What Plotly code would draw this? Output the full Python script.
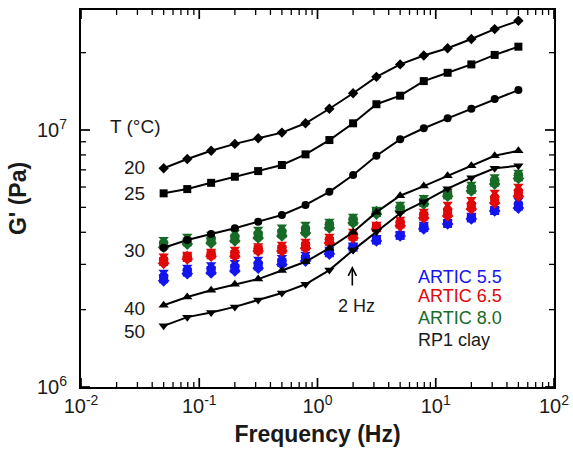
import plotly.graph_objects as go

freq = [0.05, 0.0792, 0.126, 0.2, 0.315, 0.5, 0.792, 1.26, 2.0, 3.15, 5.0, 7.92, 12.6, 20.0, 31.5, 50.0]

# RP1 clay, G' (Pa) at each temperature
rp1_20 = [7.10e6, 7.71e6, 8.30e6, 8.83e6, 9.29e6, 9.77e6, 1.062e7, 1.21e7, 1.39e7, 1.61e7, 1.80e7, 1.95e7, 2.08e7, 2.26e7, 2.47e7, 2.66e7]
rp1_25 = [5.67e6, 5.89e6, 6.23e6, 6.58e6, 6.92e6, 7.31e6, 8.04e6, 9.14e6, 1.062e7, 1.26e7, 1.36e7, 1.55e7, 1.67e7, 1.80e7, 1.96e7, 2.11e7]
rp1_30 = [3.48e6, 3.73e6, 3.94e6, 4.15e6, 4.40e6, 4.67e6, 5.11e6, 5.75e6, 6.68e6, 7.94e6, 9.20e6, 1.016e7, 1.11e7, 1.21e7, 1.32e7, 1.43e7]
rp1_40 = [2.08e6, 2.24e6, 2.38e6, 2.51e6, 2.63e6, 2.84e6, 3.07e6, 3.47e6, 4.00e6, 4.79e6, 5.55e6, 6.05e6, 6.64e6, 7.26e6, 7.94e6, 8.30e6]
rp1_50 = [1.73e6, 1.87e6, 1.95e6, 2.05e6, 2.18e6, 2.32e6, 2.51e6, 2.85e6, 3.41e6, 4.02e6, 4.74e6, 5.26e6, 5.91e6, 6.52e6, 7.10e6, 7.26e6]

# ARTIC 5.5
a55_50 = [2.80e6, 2.93e6, 3.00e6, 3.06e6, 3.15e6, 3.20e6, 3.29e6, 3.44e6, 3.57e6, 3.83e6, 3.94e6, 4.31e6, 4.39e6, 4.67e6, 4.93e6, 5.34e6]
a55_40 = [2.75e6, 2.89e6, 2.95e6, 3.00e6, 3.09e6, 3.15e6, 3.24e6, 3.40e6, 3.55e6, 3.80e6, 3.92e6, 4.26e6, 4.37e6, 4.63e6, 4.91e6, 5.25e6]
a55_30 = [2.70e6, 2.85e6, 2.89e6, 2.95e6, 3.03e6, 3.10e6, 3.19e6, 3.37e6, 3.52e6, 3.77e6, 3.91e6, 4.22e6, 4.35e6, 4.59e6, 4.89e6, 5.15e6]
a55_25 = [2.64e6, 2.80e6, 2.84e6, 2.89e6, 2.96e6, 3.05e6, 3.14e6, 3.33e6, 3.50e6, 3.73e6, 3.89e6, 4.17e6, 4.33e6, 4.55e6, 4.86e6, 5.06e6]
a55_20 = [2.59e6, 2.76e6, 2.78e6, 2.83e6, 2.90e6, 3.00e6, 3.09e6, 3.29e6, 3.47e6, 3.70e6, 3.87e6, 4.12e6, 4.31e6, 4.51e6, 4.84e6, 4.97e6]

# ARTIC 6.5
a65_50 = [3.24e6, 3.29e6, 3.38e6, 3.44e6, 3.55e6, 3.60e6, 3.70e6, 3.87e6, 4.05e6, 4.31e6, 4.51e6, 4.84e6, 5.15e6, 5.38e6, 5.74e6, 6.05e6]
a65_40 = [3.19e6, 3.26e6, 3.34e6, 3.39e6, 3.51e6, 3.54e6, 3.64e6, 3.81e6, 3.99e6, 4.26e6, 4.44e6, 4.77e6, 5.02e6, 5.27e6, 5.60e6, 5.92e6]
a65_30 = [3.13e6, 3.22e6, 3.30e6, 3.33e6, 3.46e6, 3.49e6, 3.58e6, 3.75e6, 3.92e6, 4.22e6, 4.37e6, 4.69e6, 4.89e6, 5.15e6, 5.47e6, 5.79e6]
a65_25 = [3.08e6, 3.19e6, 3.27e6, 3.28e6, 3.42e6, 3.43e6, 3.53e6, 3.69e6, 3.86e6, 4.17e6, 4.31e6, 4.62e6, 4.76e6, 5.04e6, 5.33e6, 5.66e6]
a65_20 = [3.03e6, 3.15e6, 3.23e6, 3.23e6, 3.38e6, 3.38e6, 3.47e6, 3.63e6, 3.80e6, 4.12e6, 4.24e6, 4.55e6, 4.63e6, 4.93e6, 5.20e6, 5.53e6]

# ARTIC 8.0
a80_50 = [3.76e6, 3.87e6, 3.94e6, 4.01e6, 4.12e6, 4.20e6, 4.31e6, 4.43e6, 4.63e6, 4.93e6, 5.15e6, 5.48e6, 5.79e6, 6.16e6, 6.59e6, 6.86e6]
a80_40 = [3.70e6, 3.80e6, 3.86e6, 3.93e6, 4.04e6, 4.12e6, 4.22e6, 4.36e6, 4.56e6, 4.88e6, 5.07e6, 5.40e6, 5.72e6, 6.07e6, 6.48e6, 6.76e6]
a80_30 = [3.63e6, 3.73e6, 3.78e6, 3.85e6, 3.96e6, 4.04e6, 4.14e6, 4.29e6, 4.49e6, 4.82e6, 4.99e6, 5.31e6, 5.66e6, 5.97e6, 6.37e6, 6.67e6]
a80_25 = [3.57e6, 3.67e6, 3.71e6, 3.78e6, 3.88e6, 3.95e6, 4.05e6, 4.23e6, 4.42e6, 4.77e6, 4.92e6, 5.23e6, 5.59e6, 5.88e6, 6.27e6, 6.57e6]
a80_20 = [3.50e6, 3.60e6, 3.63e6, 3.70e6, 3.80e6, 3.87e6, 3.97e6, 4.16e6, 4.35e6, 4.71e6, 4.84e6, 5.15e6, 5.53e6, 5.79e6, 6.16e6, 6.48e6]

temp_labels = ["20", "25", "30", "40", "50"]
legend_labels = ["ARTIC 5.5", "ARTIC 6.5", "ARTIC 8.0", "RP1 clay"]

# axis ticks: decades (labelled, long) and intermediate (short)
x_major = [0.01, 0.1, 1, 10, 100]
x_major_text = ["10<sup>-2</sup>", "10<sup>-1</sup>", "10<sup>0</sup>", "10<sup>1</sup>", "10<sup>2</sup>"]
x_minor = [0.02, 0.03, 0.04, 0.05, 0.06, 0.07, 0.08, 0.09,
           0.2, 0.3, 0.4, 0.5, 0.6, 0.7, 0.8, 0.9,
           2, 3, 4, 5, 6, 7, 8, 9,
           20, 30, 40, 50, 60, 70, 80, 90]
y_major = [1e6, 1e7]
y_major_text = ["10<sup>6</sup>", "10<sup>7</sup>"]
y_minor = [2e6, 3e6, 4e6, 5e6, 6e6, 7e6, 8e6, 9e6, 2e7]

BLUE = "#1414f0"
RED = "#e00808"
GREEN = "#176b27"
TXT = "#1a1a1a"
FONT = "Liberation Sans, Arial, sans-serif"

symbols = {"20": "diamond", "25": "square", "30": "circle", "40": "triangle-up", "50": "triangle-down"}
sizes = {"20": 8, "25": 8, "30": 8, "40": 9, "50": 9}

fig = go.Figure()

artic = [
    (BLUE, {"20": a55_20, "25": a55_25, "30": a55_30, "40": a55_40, "50": a55_50}),
    (RED, {"20": a65_20, "25": a65_25, "30": a65_30, "40": a65_40, "50": a65_50}),
    (GREEN, {"20": a80_20, "25": a80_25, "30": a80_30, "40": a80_40, "50": a80_50}),
]
for color, series in artic:
    for t in ["20", "25", "30", "40", "50"]:
        fig.add_trace(go.Scatter(
            x=freq, y=series[t], mode="markers",
            marker=dict(symbol=symbols[t], size=9, color=color, line=dict(width=0)),
            showlegend=False, hoverinfo="skip"))

rp1 = {"20": rp1_20, "25": rp1_25, "30": rp1_30, "40": rp1_40, "50": rp1_50}
for t in ["20", "25", "30", "40", "50"]:
    fig.add_trace(go.Scatter(
        x=freq, y=rp1[t], mode="lines+markers",
        line=dict(color="black", width=2),
        marker=dict(symbol=symbols[t], size=sizes[t], color="black", line=dict(width=0)),
        showlegend=False))

fig.update_layout(
    width=573, height=449,
    margin=dict(l=81, r=19, t=10, b=62),
    paper_bgcolor="white", plot_bgcolor="white",
    showlegend=False,
)

fig.update_xaxes(
    type="log", range=[-2, 2], showgrid=False, zeroline=False, automargin=False,
    showline=True, linecolor="black", linewidth=2, mirror=True, ticks="",
    tickmode="array", tickvals=x_major, ticktext=x_major_text,
    tickfont=dict(family=FONT, size=20, color=TXT),
    title=dict(text="<b>Frequency (Hz)</b>", font=dict(family=FONT, size=23, color=TXT), standoff=10),
)
fig.update_yaxes(
    type="log", range=[6, 7.467], showgrid=False, zeroline=False, automargin=False,
    showline=True, linecolor="black", linewidth=2, mirror=True, ticks="", ticklabelstandoff=8,
    tickmode="array", tickvals=y_major, ticktext=y_major_text,
    tickfont=dict(family=FONT, size=20, color=TXT),
    title=dict(text="<b>G' (Pa)</b>", font=dict(family=FONT, size=23, color=TXT), standoff=4),
)

# inside tick marks on all four sides (long at decades, short between)
tick_style = [(x_major, 9, 1.7), (x_minor, 5, 1.3)]
for vals, tlen, tw in tick_style:
    for v in vals:
        for anchor, sgn in ((0, 1), (1, -1)):
            fig.add_shape(type="line", xref="x", yref="paper", x0=v, x1=v,
                          ysizemode="pixel", yanchor=anchor, y0=0, y1=sgn * tlen,
                          line=dict(color="black", width=tw), layer="above")
tick_style_y = [(y_major, 9, 1.7), (y_minor, 5, 1.3)]
for vals, tlen, tw in tick_style_y:
    for v in vals:
        for anchor, sgn in ((0, 1), (1, -1)):
            fig.add_shape(type="line", yref="y", xref="paper", y0=v, y1=v,
                          xsizemode="pixel", xanchor=anchor, x0=0, x1=sgn * tlen,
                          line=dict(color="black", width=tw), layer="above")

# temperature labels
fig.add_annotation(x=0.057, y=0.690, xref="paper", yref="paper", text="T (°C)", showarrow=False,
                   xanchor="left", yanchor="middle", font=dict(family=FONT, size=19, color=TXT))
temp_y = [0.581, 0.514, 0.363, 0.2095, 0.1467]
for lab, yy in zip(temp_labels, temp_y):
    fig.add_annotation(x=0.1395, y=yy, xref="paper", yref="paper", text=lab, showarrow=False,
                       xanchor="right", yanchor="middle", font=dict(family=FONT, size=19, color=TXT))

# legend-like text
leg_colors = [BLUE, RED, GREEN, TXT]
leg_y = [0.292, 0.241, 0.184, 0.125]
for lab, col, yy in zip(legend_labels, leg_colors, leg_y):
    fig.add_annotation(x=0.708, y=yy, xref="paper", yref="paper", text=lab, showarrow=False,
                       xanchor="left", yanchor="middle", font=dict(family=FONT, size=18, color=col))

# 2 Hz marker
fig.add_annotation(x=0.5736, y=0.321, xref="paper", yref="paper", text="", showarrow=True,
                   ax=0, ay=21, arrowhead=5, arrowsize=1, arrowwidth=1.6, arrowcolor="black")
fig.add_annotation(x=0.583, y=0.215, xref="paper", yref="paper", text="2 Hz", showarrow=False,
                   xanchor="center", yanchor="middle", font=dict(family=FONT, size=18, color=TXT))

fig.write_html("out.html", config={"displayModeBar": False},
               post_script="document.body.style.margin='0px';document.body.style.overflow='hidden';")
